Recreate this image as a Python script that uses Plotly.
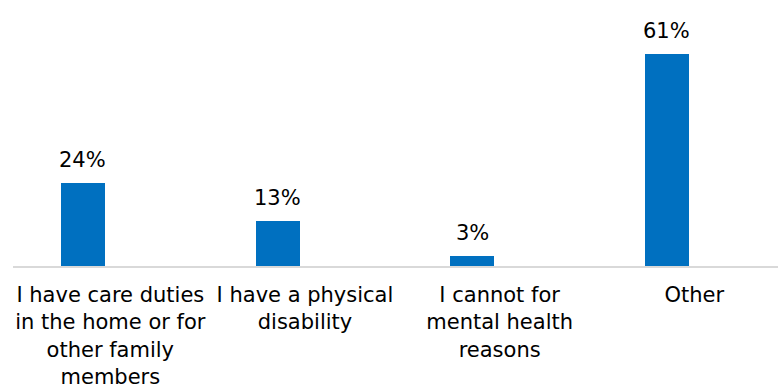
import plotly.graph_objects as go

categories = [
    "I have care duties<br>in the home or for<br>other family<br>members",
    "I have a physical<br>disability",
    "I cannot for<br>mental health<br>reasons",
    "Other",
]
values = [24, 13, 3, 61]
value_labels = ["24%", "13%", "3%", "61%"]

FONT = "DejaVu Sans, Liberation Sans, Arial, sans-serif"
BAR_W = 0.226
BAR_OFF = -0.254  # bars sit left of the category centre

fig = go.Figure()
fig.add_trace(go.Bar(
    x=list(range(len(categories))),
    y=values,
    width=BAR_W,
    offset=BAR_OFF,
    marker=dict(color="#0070C0", line=dict(width=0)),
    hoverinfo="skip",
))

for i, (v, t) in enumerate(zip(values, value_labels)):
    fig.add_annotation(x=i + BAR_OFF + BAR_W / 2, y=v, text=t, showarrow=False,
                       yanchor="bottom", yshift=9,
                       font=dict(family=FONT, size=21, color="#000000"))

fig.update_layout(
    width=778, height=385,
    margin=dict(l=13, r=0, t=0, b=119, autoexpand=False),
    paper_bgcolor="white", plot_bgcolor="white",
    showlegend=False,
    bargap=0,
)
fig.update_xaxes(
    range=[-0.5, 3.43],
    tickmode="array", tickvals=list(range(len(categories))), ticktext=categories,
    tickfont=dict(family=FONT, size=21, color="#000000"),
    ticklabeloverflow="allow",
    showline=True, linecolor="#D9D9D9", linewidth=1.5,
    showgrid=False, zeroline=False, ticks="", ticklabelstandoff=9,
)
fig.update_yaxes(range=[0, 76.5], visible=False, showgrid=False, zeroline=False)

fig.write_html("out.html", config={"displayModeBar": False},
               post_script="document.body.style.margin='0';")
